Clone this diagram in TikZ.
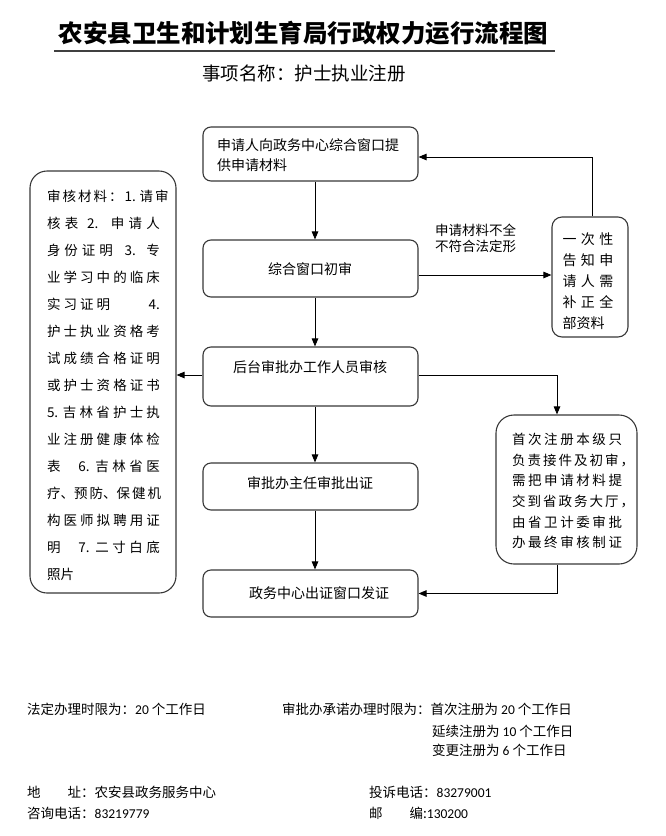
\documentclass[tikz,border=0pt]{standalone}
\usepackage{fontspec}
\setmainfont{Noto Sans CJK SC}
\newfontfamily\digf{Carlito}
\usetikzlibrary{arrows.meta}
\begin{document}
\begin{tikzpicture}[x=1pt,y=-1pt,
  box/.style={draw=black!78, line width=1.1pt, rounded corners=8pt, inner sep=0pt},
  conn/.style={draw=black, line width=0.9pt, -{Triangle[length=8pt,width=6.5pt]}},
  txt/.style={font=\fontsize{14}{20}\selectfont, inner sep=0pt},
  foot/.style={font=\fontsize{13.5}{16}\selectfont, inner sep=0pt, anchor=west}]
\useasboundingbox (0,0) rectangle (665,836);

% title
\node[inner sep=0pt, font=\fontsize{24.5}{26}\selectfont\bfseries] (title) at (303.5,33) {农安县卫生和计划生育局行政权力运行流程图};
\coordinate (ulA) at (54,51);
\coordinate (ulB) at (555,51);
\draw[line width=1.3pt, black!75] (ulA) -- (ulB);
\node[inner sep=0pt, font=\fontsize{18.5}{20}\selectfont] (sub) at (304,73) {事项名称：护士执业注册};

% main column
\node[box, minimum width=215pt, minimum height=54pt] (b1) at (310.5,154) {};
\node[txt, align=left, text width=196pt] (b1t) at (315,155) {申请人向政务中心综合窗口提\\供申请材料};

\node[box, minimum width=215pt, minimum height=57pt] (b2) at (310.5,268.5) {};
\node[txt] (b2t) at (310,269) {综合窗口初审};

\node[box, minimum width=215pt, minimum height=59pt] (b3) at (310.5,376.5) {};
\node[txt] (b3t) at (310,367) {后台审批办工作人员审核};

\node[box, minimum width=215pt, minimum height=47pt] (b4) at (310.5,486.5) {};
\node[txt] (b4t) at (310,483) {审批办主任审批出证};

\node[box, minimum width=215pt, minimum height=47pt] (b5) at (310.5,593.5) {};
\node[txt] (b5t) at (319,593) {政务中心出证窗口发证};

% left box
\node[box, rounded corners=17pt, minimum width=146pt, minimum height=422pt] (lb) at (103,382) {};
\node[inner sep=0pt, align=left, font=\fontsize{13.5}{27}\selectfont] (lbt) at (103.5,385) {%
\makebox[113pt][s]{审 核 材 料 ： 1. 请 审}\\
\makebox[113pt][s]{核 表 \ 2. \ 申 请 人}\\
\makebox[113pt][s]{身 份 证 明 \ \ 3. \ 专}\\
\makebox[113pt][s]{业 学 习 中 的 临 床}\\
\makebox[113pt][s]{实 习 证 明\hfill 4.}\\
\makebox[113pt][s]{护 士 执 业 资 格 考}\\
\makebox[113pt][s]{试 成 绩 合 格 证 明}\\
\makebox[113pt][s]{或 护 士 资 格 证 书}\\
\makebox[113pt][s]{5. 吉 林 省 护 士 执}\\
\makebox[113pt][s]{业 注 册 健 康 体 检}\\
\makebox[113pt][s]{表 \ \ \ \ 6. 吉 林 省 医}\\
\makebox[113pt][s]{疗、预 防、保 健 机}\\
\makebox[113pt][s]{构 医 师 拟 聘 用 证}\\
\makebox[113pt][s]{明 \ \ \ \ 7. 二 寸 白 底}\\
\makebox[113pt][l]{照片}};

% right boxes
\node[box, rounded corners=10pt, minimum width=76pt, minimum height=120pt] (rb1) at (590,277) {};
\node[inner sep=0pt, align=left, font=\fontsize{14}{21}\selectfont] (rb1t) at (588,281) {%
\makebox[51pt][s]{一 次 性}\\
\makebox[51pt][s]{告 知 申}\\
\makebox[51pt][s]{请 人 需}\\
\makebox[51pt][s]{补 正 全}\\
\makebox[51pt][l]{部资料}};

\node[box, rounded corners=18pt, minimum width=141pt, minimum height=149pt] (rb2) at (566.5,489.5) {};
\node[inner sep=0pt, align=left, font=\fontsize{13.5}{20.6}\selectfont] (rb2t) at (567,491) {%
\makebox[110pt][s]{首 次 注 册 本 级 只}\\
\makebox[110pt][s]{负 责 接 件 及 初 审 ，}\\
\makebox[110pt][s]{需 把 申 请 材 料 提}\\
\makebox[110pt][s]{交 到 省 政 务 大 厅 ，}\\
\makebox[110pt][s]{由 省 卫 计 委 审 批}\\
\makebox[110pt][s]{办 最 终 审 核 制 证}};

\node[inner sep=0pt, anchor=north west, align=left, font=\fontsize{13.5}{16}\selectfont] (lab) at (435,224) {申请材料不全\\不符合法定形};

% connectors
\draw[conn] ([xshift=4.5pt]b1.south) -- ([xshift=4.5pt]b2.north);
\draw[conn] ([xshift=4.5pt]b2.south) -- ([xshift=4.5pt]b3.north);
\draw[conn] ([xshift=4.5pt]b3.south) -- ([xshift=4.5pt]b4.north);
\draw[conn] ([xshift=4.5pt]b4.south) -- ([xshift=4.5pt]b5.north);
\draw[conn] ([yshift=-6.5pt]b2.east) -- ([yshift=-6.5pt]b2.east -| rb1.west);
\draw[conn] ([xshift=2pt]rb1.north) |- ([yshift=-3pt]b1.east);
\draw[conn] ([yshift=1.5pt]b3.east) -| ([xshift=-9.5pt]rb2.north);
\draw[conn] ([xshift=-9.5pt]rb2.south) |- (b5.east);
\draw[conn] ([yshift=1.5pt]b3.west) -- ([yshift=1.5pt]b3.west -| lb.east);

% footer
\node[foot] (f1) at (27,709) {法定办理时限为：{\digf 20} 个工作日};
\node[foot] (f2) at (282,709) {审批办承诺办理时限为：首次注册为 {\digf 20} 个工作日};
\node[foot] (f3) at (432,731) {延续注册为 {\digf 10} 个工作日};
\node[foot] (f4) at (432,750) {变更注册为 {\digf 6} 个工作日};
\node[foot] (f5) at (27,792) {地\hspace{2em}址：农安县政务服务中心};
\node[foot] (f6) at (27,813) {咨询电话：{\digf 83219779}};
\node[foot] (f7) at (369,792) {投诉电话：{\digf 83279001}};
\node[foot] (f8) at (369,813) {邮\hspace{2em}编:{\digf 130200}};
\end{tikzpicture}
\end{document}
